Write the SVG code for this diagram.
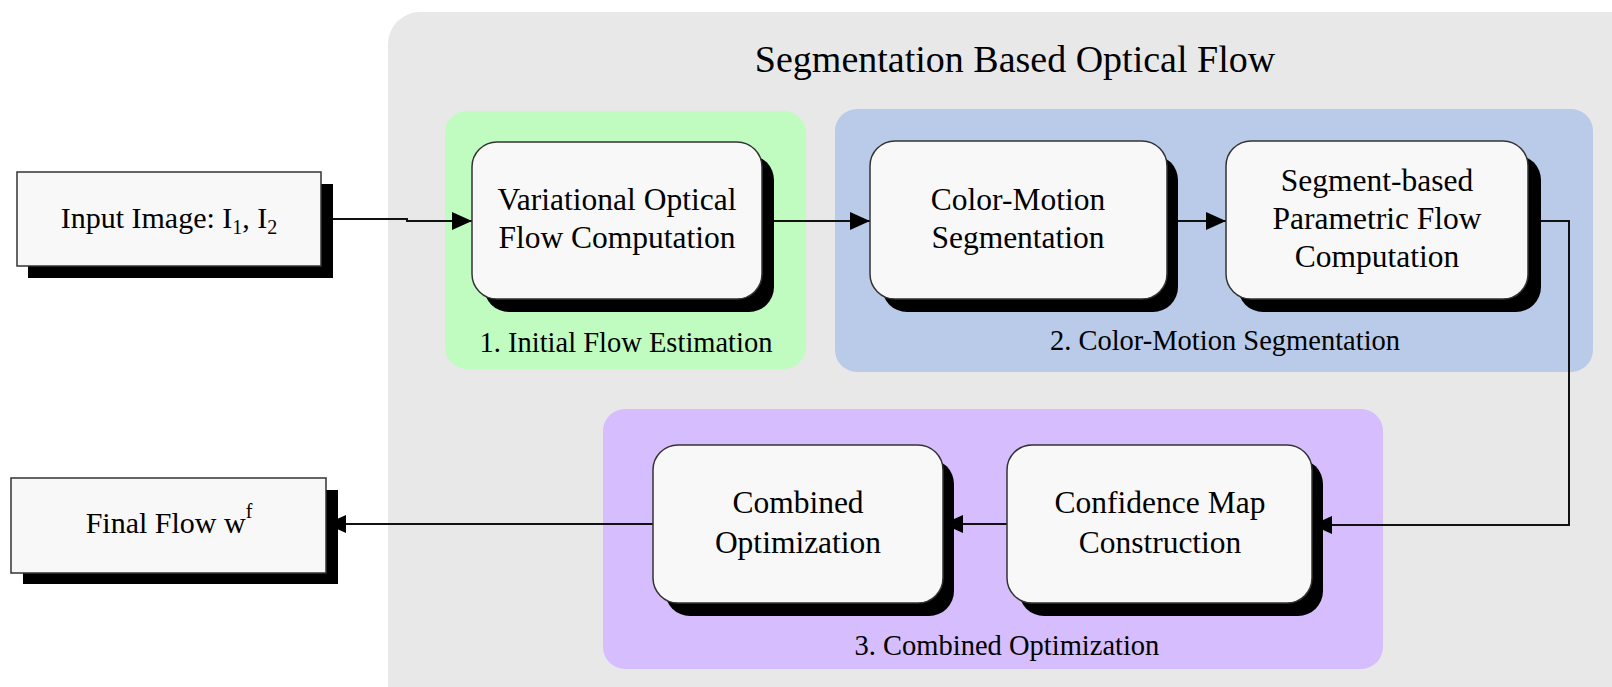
<svg xmlns="http://www.w3.org/2000/svg" width="1612" height="687" viewBox="0 0 1612 687">
<style>
  .t { font-family: "Liberation Serif", "Times New Roman", serif; fill: #000; text-anchor: middle; }
  .node { font-size: 31.5px; }
  .lbl { font-size: 28.5px; }
  .title { font-size: 38px; }
  .box { fill: #f8f8f8; stroke: #333; stroke-width: 1.5; }
  .shadow { fill: #000; }
  .conn { fill: none; stroke: #111; stroke-width: 2; }
</style>
<defs>
  <marker id="arr" markerUnits="userSpaceOnUse" markerWidth="22" markerHeight="20" refX="20" refY="9" orient="auto">
    <path d="M0,0 L20,9 L0,18 Z" fill="#000"/>
  </marker>
</defs>
<rect width="1612" height="687" fill="#fff"/>

<g id="panel-main">
  <rect x="388" y="12" width="1260" height="710" rx="32" fill="#e8e8e8"/>
  <text class="t title" x="1015" y="72">Segmentation Based Optical Flow</text>
</g>
<g id="panel-initial">
  <rect x="445" y="111" width="361" height="258" rx="22" fill="#c0fcc0"/>
  <text class="t lbl" x="626" y="352">1. Initial Flow Estimation</text>
</g>
<g id="panel-segmentation">
  <rect x="835" y="109" width="758" height="263" rx="22" fill="#b9cbe8"/>
  <text class="t lbl" x="1225" y="350">2. Color-Motion Segmentation</text>
</g>
<g id="panel-combined">
  <rect x="603" y="409" width="780" height="260" rx="22" fill="#d6bdfe"/>
  <text class="t lbl" x="1007" y="655">3. Combined Optimization</text>
</g>

<g id="connectors">
  <polyline class="conn" points="321,219 407,219 407,221 472,221" marker-end="url(#arr)"/>
  <line class="conn" x1="762" y1="221" x2="870" y2="221" marker-end="url(#arr)"/>
  <line class="conn" x1="1167" y1="221" x2="1226" y2="221" marker-end="url(#arr)"/>
  <polyline class="conn" points="1528,221 1569,221 1569,525 1312,525" marker-end="url(#arr)"/>
  <line class="conn" x1="1007" y1="524" x2="943" y2="524" marker-end="url(#arr)"/>
  <line class="conn" x1="653" y1="524" x2="326" y2="524" marker-end="url(#arr)"/>
</g>

<g id="input-image">
  <rect class="shadow" x="28" y="184" width="305" height="94"/>
  <rect class="box" x="17" y="172" width="304" height="94"/>
  <text class="t node" x="169" y="228" style="font-size:30px">Input Image: I<tspan font-size="20" dy="6">1</tspan><tspan dy="-6">, I</tspan><tspan font-size="20" dy="6">2</tspan></text>
</g>

<g id="variational-flow">
  <rect class="shadow" x="484" y="155" width="290" height="157" rx="25"/>
  <rect class="box" x="472" y="142" width="290" height="157" rx="25"/>
  <text class="t node" x="617" y="210">Variational Optical</text>
  <text class="t node" x="617" y="248">Flow Computation</text>
</g>

<g id="color-motion-segmentation">
  <rect class="shadow" x="882" y="155" width="296" height="157" rx="25"/>
  <rect class="box" x="870" y="141" width="297" height="158" rx="25"/>
  <text class="t node" x="1018" y="210">Color-Motion</text>
  <text class="t node" x="1018" y="248">Segmentation</text>
</g>

<g id="segment-parametric-flow">
  <rect class="shadow" x="1238" y="155" width="303" height="157" rx="25"/>
  <rect class="box" x="1226" y="141" width="302" height="158" rx="25"/>
  <text class="t node" x="1377" y="191">Segment-based</text>
  <text class="t node" x="1377" y="229">Parametric Flow</text>
  <text class="t node" x="1377" y="267">Computation</text>
</g>

<g id="confidence-map">
  <rect class="shadow" x="1019" y="459" width="304" height="157" rx="25"/>
  <rect class="box" x="1007" y="445" width="305" height="158" rx="25"/>
  <text class="t node" x="1160" y="513">Confidence Map</text>
  <text class="t node" x="1160" y="553">Construction</text>
</g>

<g id="combined-optimization">
  <rect class="shadow" x="665" y="459" width="289" height="157" rx="25"/>
  <rect class="box" x="653" y="445" width="290" height="158" rx="25"/>
  <text class="t node" x="798" y="513">Combined</text>
  <text class="t node" x="798" y="553">Optimization</text>
</g>

<g id="final-flow">
  <rect class="shadow" x="23" y="490" width="315" height="94"/>
  <rect class="box" x="11" y="478" width="315" height="95"/>
  <text class="t node" x="169" y="533" style="font-size:30px">Final Flow w<tspan font-size="20" dy="-15">f</tspan></text>
</g>
</svg>
